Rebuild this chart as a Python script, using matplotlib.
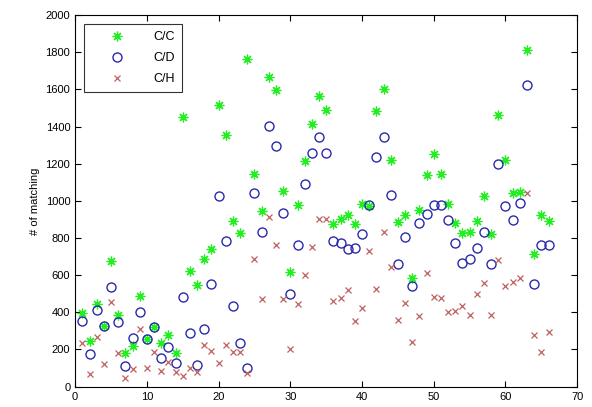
import numpy as np
import matplotlib.pyplot as plt

plt.rcParams['font.family'] = ['Liberation Sans', 'DejaVu Sans']

# sample index 1..66
idx = np.arange(1, 67)

cc = [395, 247, 443, 326, 676, 387, 180, 219, 486, 258,
      323, 237, 278, 180, 1452, 624, 547, 688, 742, 1516,
      1353, 893, 825, 1766, 1144, 945, 1667, 1595, 1054, 615,
      977, 1212, 1416, 1563, 1491, 878, 901, 923, 876, 982,
      973, 1484, 1604, 1219, 887, 923, 586, 950, 1138, 1251,
      1147, 981, 882, 825, 833, 891, 1027, 821, 1464, 1222,
      1040, 1049, 1814, 713, 923, 890]

cd = [353, 174, 412, 326, 538, 348, 113, 264, 403, 258,
      323, 154, 215, 126, 484, 287, 117, 312, 552, 1025,
      783, 434, 233, 100, 1043, 835, 1405, 1294, 937, 498,
      762, 1091, 1255, 1341, 1260, 783, 771, 740, 744, 823,
      975, 1237, 1342, 1034, 658, 803, 541, 882, 927, 975,
      975, 896, 774, 663, 688, 744, 835, 658, 1196, 973,
      896, 986, 1622, 552, 765, 762]

ch = [233, 68, 269, 122, 457, 183, 48, 94, 309, 99,
      188, 86, 131, 81, 59, 99, 81, 224, 194, 126,
      226, 188, 185, 75, 687, 471, 914, 760, 471, 201,
      446, 599, 751, 902, 902, 462, 475, 520, 353, 425,
      730, 525, 835, 645, 359, 452, 242, 382, 610, 481,
      476, 403, 409, 435, 387, 498, 557, 387, 681, 541,
      563, 586, 1043, 276, 185, 296]

fig = plt.figure(figsize=(5.92, 4.07), dpi=100)
ax = fig.add_axes([0.127, 0.05, 0.848, 0.913])

ax.plot(idx, cc, linestyle='none', marker=(8, 2, 0), markersize=7,
        markeredgewidth=0.9, color='#22ee22', label='C/C')
ax.plot(idx, cd, linestyle='none', marker='o', markersize=6.5,
        markerfacecolor='none', markeredgewidth=1.0, color='#2a2aa8', label='C/D')
ax.plot(idx, ch, linestyle='none', marker='x', markersize=4,
        markeredgewidth=0.9, color='#c06060', label='C/H')

ax.set_xlim(0, 70)
ax.set_ylim(0, 2000)
ax.set_xticks(range(0, 71, 10))
ax.set_yticks(range(0, 2001, 200))
ax.tick_params(direction='in', top=True, right=True, labelsize=8, length=4)
ax.set_ylabel('# of matching', fontsize=8, labelpad=4)
for s in ax.spines.values():
    s.set_linewidth(0.8)

leg = ax.legend(loc='upper left', bbox_to_anchor=(0.018, 0.976), fontsize=9,
                frameon=True, fancybox=False, edgecolor='black',
                handlelength=4.0, handletextpad=0.9, labelspacing=0.7,
                borderpad=0.6, borderaxespad=0.0, numpoints=1)
leg.get_frame().set_linewidth(0.8)

fig.savefig('out.png', dpi=100)
